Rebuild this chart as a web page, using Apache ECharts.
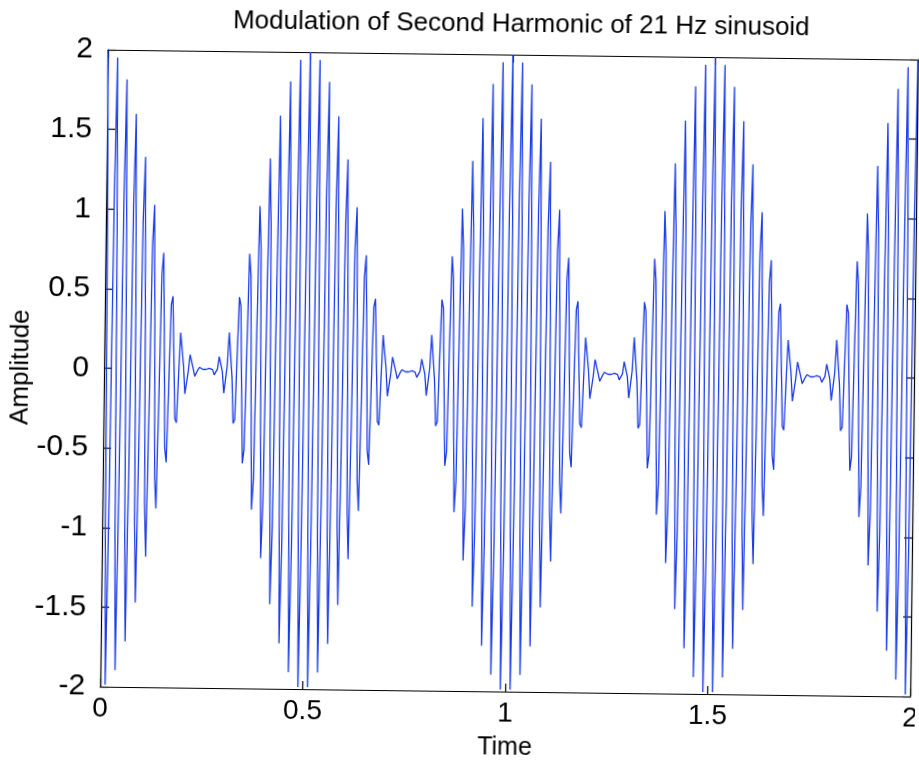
<!DOCTYPE html>
<html><head><meta charset="utf-8">
<script src="https://cdn.jsdelivr.net/npm/echarts@6/dist/echarts.min.js"></script>
<style>
html,body{margin:0;padding:0;background:#fff;overflow:hidden}
#chart{width:919px;height:760px;background:transparent;transform:rotate(0.7deg);transform-origin:50% 50%;}
</style>
</head><body><div id="chart"></div>
<script>
// ---- data ----
const chartTitle = 'Modulation of Second Harmonic of 21 Hz sinusoid';
const xAxisName = 'Time';
const yAxisName = 'Amplitude';
const sampleStep = 0.004;          // seconds between samples
const xTicks = [0, 0.5, 1, 1.5, 2];
const yTicks = [-2, -1.5, -1, -0.5, 0, 0.5, 1, 1.5, 2];

// samples of the signal, one envelope lobe (0.5 s) per array
const lobe1 = [2.000,0.985,-1.026,-1.988,-0.930,1.055,1.952,0.869,-1.070,-1.894,-0.799,1.069,1.814,0.723,-1.054,-1.715,-0.643,1.024,1.600,0.562,-0.979,-1.470,-0.482,0.921,1.329,0.405,-0.851,-1.181,-0.331,0.772,1.029,0.264,-0.685,-0.878,-0.204,0.592,0.729,0.152,-0.498,-0.587,-0.108,0.404,0.456,0.072,-0.313,-0.337,-0.045,0.229,0.234,0.025,-0.155,-0.148,-0.012,0.092,0.081,0.004,-0.044,-0.034,-0.001,0.013,0.007,0,0,0,0,0.007,0.013,-0.001,-0.034,-0.044,0.004,0.081,0.092,-0.012,-0.148,-0.155,0.025,0.234,0.229,-0.045,-0.337,-0.313,0.072,0.456,0.404,-0.108,-0.587,-0.498,0.152,0.729,0.592,-0.204,-0.878,-0.685,0.264,1.029,0.772,-0.331,-1.181,-0.851,0.405,1.329,0.921,-0.482,-1.470,-0.979,0.562,1.600,1.024,-0.643,-1.715,-1.054,0.723,1.814,1.069,-0.799,-1.894,-1.070,0.869,1.952,1.055,-0.930,-1.988,-1.026,0.985];
const lobe2 = [2.000,0.985,-1.026,-1.988,-0.930,1.055,1.952,0.869,-1.070,-1.894,-0.799,1.069,1.814,0.723,-1.054,-1.715,-0.643,1.024,1.600,0.562,-0.979,-1.470,-0.482,0.921,1.329,0.405,-0.851,-1.181,-0.331,0.772,1.029,0.264,-0.685,-0.878,-0.204,0.592,0.729,0.152,-0.498,-0.587,-0.108,0.404,0.456,0.072,-0.313,-0.337,-0.045,0.229,0.234,0.025,-0.155,-0.148,-0.012,0.092,0.081,0.004,-0.044,-0.034,-0.001,0.013,0.007,0,0,0,0,0.007,0.013,-0.001,-0.034,-0.044,0.004,0.081,0.092,-0.012,-0.148,-0.155,0.025,0.234,0.229,-0.045,-0.337,-0.313,0.072,0.456,0.404,-0.108,-0.587,-0.498,0.152,0.729,0.592,-0.204,-0.878,-0.685,0.264,1.029,0.772,-0.331,-1.181,-0.851,0.405,1.329,0.921,-0.482,-1.470,-0.979,0.562,1.600,1.024,-0.643,-1.715,-1.054,0.723,1.814,1.069,-0.799,-1.894,-1.070,0.869,1.952,1.055,-0.930,-1.988,-1.026,0.985];
const lobe3 = [2.000,0.985,-1.026,-1.988,-0.930,1.055,1.952,0.869,-1.070,-1.894,-0.799,1.069,1.814,0.723,-1.054,-1.715,-0.643,1.024,1.600,0.562,-0.979,-1.470,-0.482,0.921,1.329,0.405,-0.851,-1.181,-0.331,0.772,1.029,0.264,-0.685,-0.878,-0.204,0.592,0.729,0.152,-0.498,-0.587,-0.108,0.404,0.456,0.072,-0.313,-0.337,-0.045,0.229,0.234,0.025,-0.155,-0.148,-0.012,0.092,0.081,0.004,-0.044,-0.034,-0.001,0.013,0.007,0,0,0,0,0.007,0.013,-0.001,-0.034,-0.044,0.004,0.081,0.092,-0.012,-0.148,-0.155,0.025,0.234,0.229,-0.045,-0.337,-0.313,0.072,0.456,0.404,-0.108,-0.587,-0.498,0.152,0.729,0.592,-0.204,-0.878,-0.685,0.264,1.029,0.772,-0.331,-1.181,-0.851,0.405,1.329,0.921,-0.482,-1.470,-0.979,0.562,1.600,1.024,-0.643,-1.715,-1.054,0.723,1.814,1.069,-0.799,-1.894,-1.070,0.869,1.952,1.055,-0.930,-1.988,-1.026,0.985];
const lobe4 = [2.000,0.985,-1.026,-1.988,-0.930,1.055,1.952,0.869,-1.070,-1.894,-0.799,1.069,1.814,0.723,-1.054,-1.715,-0.643,1.024,1.600,0.562,-0.979,-1.470,-0.482,0.921,1.329,0.405,-0.851,-1.181,-0.331,0.772,1.029,0.264,-0.685,-0.878,-0.204,0.592,0.729,0.152,-0.498,-0.587,-0.108,0.404,0.456,0.072,-0.313,-0.337,-0.045,0.229,0.234,0.025,-0.155,-0.148,-0.012,0.092,0.081,0.004,-0.044,-0.034,-0.001,0.013,0.007,0,0,0,0,0.007,0.013,-0.001,-0.034,-0.044,0.004,0.081,0.092,-0.012,-0.148,-0.155,0.025,0.234,0.229,-0.045,-0.337,-0.313,0.072,0.456,0.404,-0.108,-0.587,-0.498,0.152,0.729,0.592,-0.204,-0.878,-0.685,0.264,1.029,0.772,-0.331,-1.181,-0.851,0.405,1.329,0.921,-0.482,-1.470,-0.979,0.562,1.600,1.024,-0.643,-1.715,-1.054,0.723,1.814,1.069,-0.799,-1.894,-1.070,0.869,1.952,1.055,-0.930,-1.988,-1.026,0.985];
const lastSample = [2.000];

// ---- build ----
const amplitude = [].concat(lobe1, lobe2, lobe3, lobe4, lastSample);
const seriesData = amplitude.map((v, i) => [+(i * sampleStep).toFixed(3), v]);

const FONT = '"Liberation Sans", Arial, Helvetica, sans-serif';
const xMin = xTicks[0], xMax = xTicks[xTicks.length - 1], xInt = xTicks[1] - xTicks[0];
const yMin = yTicks[0], yMax = yTicks[yTicks.length - 1], yInt = yTicks[1] - yTicks[0];
const axisLine = { show: true, onZero: false, lineStyle: { color: '#000', width: 1.2 } };
const tick = { show: true, inside: true, length: 8, lineStyle: { color: '#000', width: 1.2 } };

const chart = echarts.init(document.getElementById('chart'), null, { renderer: 'canvas' });
chart.setOption({
  animation: false,
  backgroundColor: 'transparent',
  title: {
    text: chartTitle, left: 512, top: 6, textAlign: 'center',
    textStyle: { fontFamily: FONT, fontSize: 26, fontWeight: 'normal', color: '#000' }
  },
  grid: { left: 104, right: 5, top: 54, bottom: 69, containLabel: false, outerBoundsMode: 'none' },
  xAxis: [
    { type: 'value', min: xMin, max: xMax, interval: xInt, position: 'bottom',
      name: xAxisName, nameLocation: 'middle', nameGap: 44, nameMoveOverlap: false,
      nameTextStyle: { fontFamily: FONT, fontSize: 25, color: '#000' },
      axisLine: axisLine, axisTick: tick, splitLine: { show: false },
      axisLabel: { fontFamily: FONT, fontSize: 28, color: '#000', margin: 8 } },
    { type: 'value', min: xMin, max: xMax, interval: xInt, position: 'top',
      axisLine: axisLine, axisTick: tick, splitLine: { show: false }, axisLabel: { show: false } }
  ],
  yAxis: [
    { type: 'value', min: yMin, max: yMax, interval: yInt, position: 'left',
      name: yAxisName, nameLocation: 'middle', nameGap: 70, nameRotate: 90, nameMoveOverlap: false,
      nameTextStyle: { fontFamily: FONT, fontSize: 26, color: '#000' },
      axisLine: axisLine, axisTick: tick, splitLine: { show: false },
      axisLabel: { fontFamily: FONT, fontSize: 30, color: '#000', margin: 15 } },
    { type: 'value', min: yMin, max: yMax, interval: yInt, position: 'right',
      axisLine: axisLine, axisTick: tick, splitLine: { show: false }, axisLabel: { show: false } }
  ],
  series: [{
    type: 'line', data: seriesData, xAxisIndex: 0, yAxisIndex: 0,
    showSymbol: false, symbol: 'none', sampling: null, smooth: false,
    lineStyle: { color: '#1b3be8', width: 1.3 }, z: 1
  }]
});
</script>
</body></html>
